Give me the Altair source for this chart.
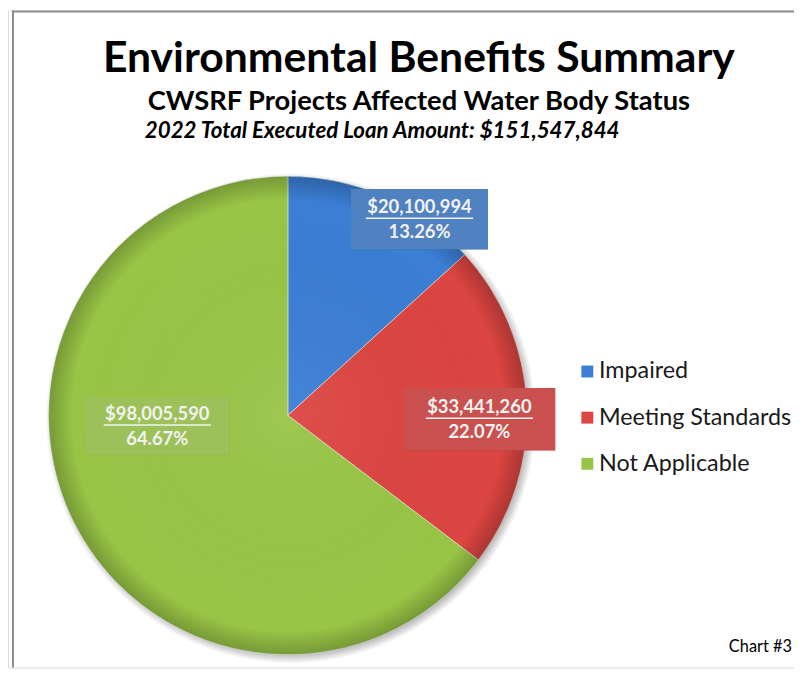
import math
import altair as alt
import pandas as pd

# ---------------- data ----------------
categories = ["Impaired", "Meeting Standards", "Not Applicable"]
amounts = [20100994, 33441260, 98005590]

title_text = "Environmental Benefits Summary"
subtitle_text = "CWSRF Projects Affected Water Body Status"
total_text = "2022 Total Executed Loan Amount: $151,547,844"
footer_text = "Chart #3"

# ---------------- style ----------------
W, H = 792, 662
CX, CY, R = 282, 408, 241
FONT = "Lato"
slice_colors = ["#3b7ed4", "#dc4541", "#98c546"]
box_colors = ["#5081c0", "#c9504e", "#9cc159"]
# label placement (radius in px, angle nudge in degrees from slice middle), box size
label_radius = {"Impaired": 238, "Meeting Standards": 193, "Not Applicable": 132}
label_nudge = {"Impaired": 10.0, "Meeting Standards": 3.7, "Not Applicable": 21.8}
box_w = {"Impaired": 138, "Meeting Standards": 153, "Not Applicable": 145}
box_h = {"Impaired": 61, "Meeting Standards": 63, "Not Applicable": 58}

df = pd.DataFrame({
    "category": categories,
    "value": amounts,
    "order": list(range(len(categories))),
})
df["lr"] = df["category"].map(label_radius)
df["nudge"] = df["category"].map(label_nudge)
df["bw"] = df["category"].map(box_w)
df["bh"] = df["category"].map(box_h)

color_scale = alt.Scale(domain=categories, range=slice_colors)
box_scale = alt.Scale(domain=categories, range=box_colors)

# ---------- pie ----------
pie = alt.Chart(df).mark_arc(radius=R, stroke="#e8f0e0", strokeWidth=1, strokeOpacity=0.6).encode(
    theta=alt.Theta("value:Q", stack=True),
    order=alt.Order("order:Q"),
    color=alt.Color("category:N", scale=color_scale, sort=categories,
                    legend=alt.Legend(title=None, orient="none", legendX=572, legendY=352,
                                      symbolType="square", symbolSize=144, symbolStrokeWidth=0,
                                      labelFont=FONT, labelFontSize=23.5, labelColor="#1a1a1a",
                                      rowPadding=21.5, labelOffset=0, labelLimit=400)),
    x=alt.value(CX), y=alt.value(CY),
)

one = pd.DataFrame({"k": [0]})

shadow = alt.Chart(one).mark_arc(
    radius=R + 6, theta=0, theta2=2 * math.pi,
    fill=alt.RadialGradient(gradient="radial", x1=0.5, y1=0.5, r1=0, x2=0.5, y2=0.5, r2=0.5,
                            stops=[alt.GradientStop(color="rgba(0,0,0,0.35)", offset=0),
                                   alt.GradientStop(color="rgba(0,0,0,0.35)", offset=0.95),
                                   alt.GradientStop(color="rgba(0,0,0,0)", offset=1)]),
).encode(x=alt.value(CX + 3), y=alt.value(CY + 3))

rim = alt.Chart(one).mark_arc(
    radius=R, theta=0, theta2=2 * math.pi,
    fill=alt.RadialGradient(gradient="radial", x1=0.5, y1=0.5, r1=0, x2=0.5, y2=0.5, r2=0.5,
                            stops=[alt.GradientStop(color="rgba(255,255,255,0.06)", offset=0),
                                   alt.GradientStop(color="rgba(0,0,0,0)", offset=0.9),
                                   alt.GradientStop(color="rgba(0,0,0,0.22)", offset=1)]),
).encode(x=alt.value(CX), y=alt.value(CY))

# ---------- labels ----------
lab = alt.Chart(df).transform_joinaggregate(
    total="sum(value)"
).transform_window(
    cum="sum(value)", sort=[alt.SortField("order")]
).transform_calculate(
    ang="2*PI*(datum.cum - datum.value/2)/datum.total + datum.nudge*PI/180",
).transform_calculate(
    lx=f"{CX} + datum.lr*sin(datum.ang)",
    ly=f"{CY} - datum.lr*cos(datum.ang)",
    amt="'$' + format(datum.value, ',')",
    pct="format(datum.value/datum.total, '.2%')",
).transform_calculate(
    bx1="datum.lx - datum.bw/2", bx2="datum.lx + datum.bw/2",
    by1="datum.ly - datum.bh/2", by2="datum.ly + datum.bh/2",
    ux1="datum.lx - 54", ux2="datum.lx + 54", uy="datum.ly - 1",
)

box_shadow = lab.mark_rect(color="black", opacity=0.22).encode(
    x=alt.X("bx1:Q", scale=None), x2="bx2:Q",
    y=alt.Y("by1:Q", scale=None), y2="by2:Q",
    xOffset=alt.value(3), yOffset=alt.value(3),
)
boxes = lab.mark_rect().encode(
    x=alt.X("bx1:Q", scale=None), x2="bx2:Q",
    y=alt.Y("by1:Q", scale=None), y2="by2:Q",
    fill=alt.Fill("category:N", scale=box_scale, legend=None),
)
line1 = lab.mark_text(font=FONT, fontSize=18.5, fontWeight="bold", color="#f2f2f2", dy=-12).encode(
    x=alt.X("lx:Q", scale=None), y=alt.Y("ly:Q", scale=None), text="amt:N")
line2 = lab.mark_text(font=FONT, fontSize=18.5, fontWeight="bold", color="#f2f2f2", dy=13).encode(
    x=alt.X("lx:Q", scale=None), y=alt.Y("ly:Q", scale=None), text="pct:N")
underline = lab.mark_rule(color="#f2f2f2", strokeWidth=1.5).encode(
    x=alt.X("ux1:Q", scale=None), x2="ux2:Q", y=alt.Y("uy:Q", scale=None))

# ---------- titles ----------
def txt(s, x, y, size, weight="normal", style="normal", align="center"):
    return alt.Chart(pd.DataFrame({"t": [s]})).mark_text(
        font=FONT, fontSize=size, fontWeight=weight, fontStyle=style, align=align,
        baseline="alphabetic", color="#000000").encode(
        x=alt.value(x), y=alt.value(y), text="t:N")

t1 = txt(title_text, 414, 62, 43, "bold")
t2 = txt(subtitle_text, 414, 100, 27.5, "bold")
t3 = txt(total_text, 377, 128, 22.5, "bold", "italic")
t4 = txt(footer_text, 790, 646, 16.5, align="right")

border_top = alt.Chart(one).mark_rule(color="#8c8c8c", strokeWidth=2).encode(
    x=alt.value(4), x2=alt.value(W), y=alt.value(1))
border_left = alt.Chart(one).mark_rule(color="#8c8c8c", strokeWidth=2).encode(
    x=alt.value(5), y=alt.value(0), y2=alt.value(H))

chart = alt.layer(
    border_top, border_left, shadow, pie, rim,
    box_shadow, boxes, line1, line2, underline,
    t1, t2, t3, t4,
).properties(
    width=W, height=H, padding=0, autosize=alt.AutoSizeParams(type="none"),
).configure_view(stroke=None).configure(background="white")

chart.save("out.html", embed_options={"renderer": "svg", "actions": False})
